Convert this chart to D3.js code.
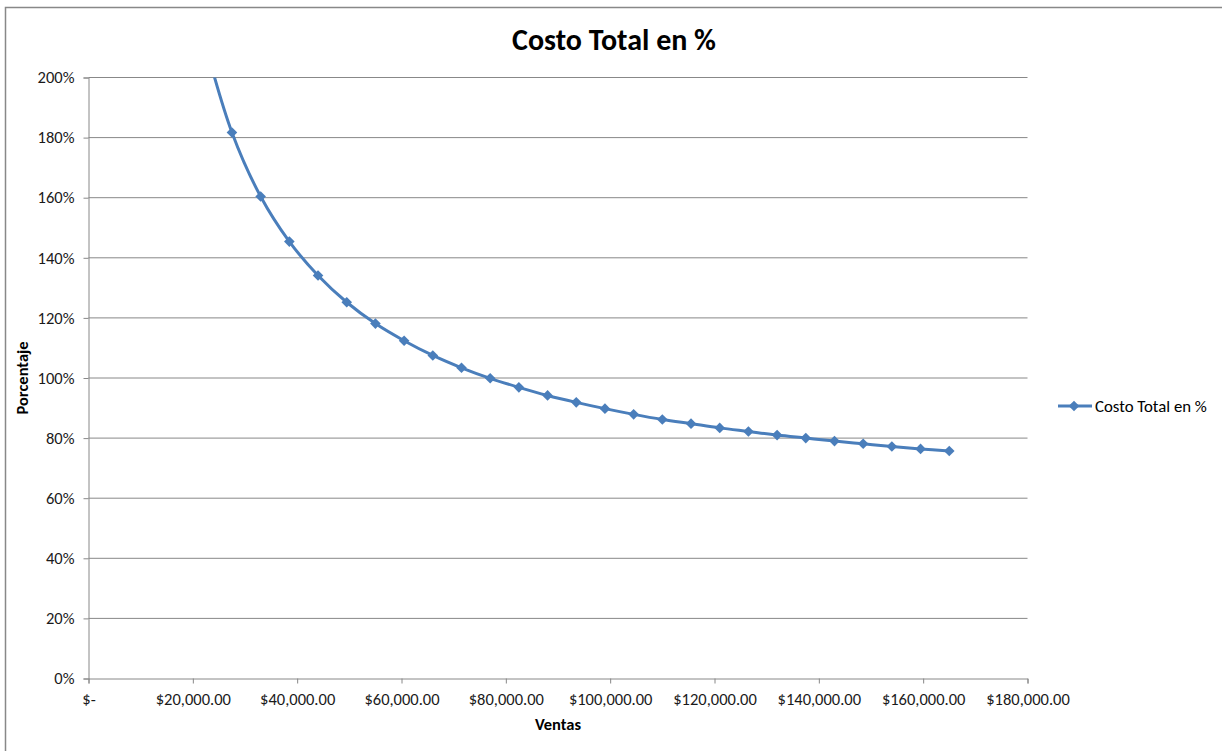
<!DOCTYPE html>
<html>
<head>
<meta charset="utf-8">
<script src="https://cdn.jsdelivr.net/npm/d3@7"></script>
<style>
  html, body { margin: 0; padding: 0; background: #fff; }
  svg { display: block; font-family: Carlito, Calibri, Lato, sans-serif; }
</style>
</head>
<body>
<svg id="chart" width="1222" height="751"></svg>
<script>
// Ventas (x) and costo total como fracción de ventas (y)
const ventas = [22000, 27500, 33000, 38500, 44000, 49500, 55000, 60500, 66000, 71500,
  77000, 82500, 88000, 93500, 99000, 104500, 110000, 115500, 121000, 126500,
  132000, 137500, 143000, 148500, 154000, 159500, 165000];
const costoPct = [2.136, 1.817, 1.604, 1.454, 1.341, 1.252, 1.181, 1.124, 1.075, 1.034,
  0.999, 0.969, 0.942, 0.919, 0.898, 0.879, 0.862, 0.848, 0.834, 0.822,
  0.810, 0.800, 0.790, 0.781, 0.772, 0.764, 0.757];
const xTicks = [0, 20000, 40000, 60000, 80000, 100000, 120000, 140000, 160000, 180000];
const yTicks = [0, 0.2, 0.4, 0.6, 0.8, 1.0, 1.2, 1.4, 1.6, 1.8, 2.0];
const titulo = "Costo Total en %";
const serieNombre = "Costo Total en %";

const svg = d3.select("#chart");
const blue = "#4a7ebb";
const grid = "#888888";
const FONT = "Carlito, Calibri, Lato, sans-serif";
const LABEL_SIZE = 16.5;

// Chart-area border
svg.append("rect")
  .attr("x", 5.5).attr("y", 7.5).attr("width", 1240).attr("height", 760)
  .attr("fill", "none").attr("stroke", "#888").attr("stroke-width", 1.5);

const plot = { left: 88.5, right: 1027.5, top: 77.5, bottom: 678.5 };

const x = d3.scaleLinear().domain([0, 180000]).range([plot.left, plot.right]);
const y = d3.scaleLinear().domain([0, 2]).range([plot.bottom, plot.top]);

// Horizontal gridlines
svg.append("g")
  .selectAll("line")
  .data(yTicks.filter(d => d > 0))
  .join("line")
  .attr("x1", plot.left).attr("x2", plot.right)
  .attr("y1", d => y(d)).attr("y2", d => y(d))
  .attr("stroke", grid).attr("stroke-width", 1);

// Y axis
const fmtPct = d => Math.round(d * 100) + "%";
const yAxis = svg.append("g")
  .attr("transform", `translate(${plot.left},0)`)
  .call(d3.axisLeft(y).tickValues(yTicks).tickFormat(fmtPct).tickSize(5).tickPadding(9));
yAxis.select(".domain").attr("stroke", grid);
yAxis.selectAll(".tick line").attr("stroke", grid);
yAxis.selectAll(".tick text")
  .attr("font-family", FONT)
  .attr("font-size", LABEL_SIZE).attr("fill", "#1a1a1a");

// X axis
const fmtMoney = d => d === 0 ? "$-" : "$" + d3.format(",.2f")(d);
const xAxis = svg.append("g")
  .attr("transform", `translate(0,${plot.bottom})`)
  .call(d3.axisBottom(x).tickValues(xTicks).tickFormat(fmtMoney).tickSize(5).tickPadding(10));
xAxis.select(".domain").attr("stroke", grid);
xAxis.selectAll(".tick line").attr("stroke", grid);
xAxis.selectAll(".tick text")
  .attr("font-family", FONT)
  .attr("font-size", LABEL_SIZE).attr("fill", "#1a1a1a");

// Clip the series to the plot area
svg.append("clipPath").attr("id", "plotClip")
  .append("rect")
  .attr("x", plot.left).attr("y", plot.top)
  .attr("width", plot.right - plot.left).attr("height", plot.bottom - plot.top);

const pts = ventas.map((v, i) => [v, costoPct[i]]);
const series = svg.append("g").attr("clip-path", "url(#plotClip)");

const line = d3.line()
  .x(d => x(d[0])).y(d => y(d[1]))
  .curve(d3.curveCatmullRom.alpha(0.5));

series.append("path")
  .datum(pts)
  .attr("d", line)
  .attr("fill", "none")
  .attr("stroke", blue)
  .attr("stroke-width", 3)
  .attr("stroke-linejoin", "round");

const diamond = d3.symbol().type(d3.symbolDiamond2).size(72);
series.selectAll("path.marker")
  .data(pts)
  .join("path")
  .attr("class", "marker")
  .attr("d", diamond)
  .attr("transform", d => `translate(${x(d[0])},${y(d[1])})`)
  .attr("fill", blue);

// Title
svg.append("text")
  .attr("x", 614).attr("y", 50)
  .attr("text-anchor", "middle")
  .attr("font-size", 30).attr("font-weight", "bold")
  .text(titulo);

// Axis titles
svg.append("text")
  .attr("x", 558).attr("y", 730)
  .attr("text-anchor", "middle")
  .attr("font-size", LABEL_SIZE).attr("font-weight", "bold")
  .text("Ventas");

svg.append("text")
  .attr("transform", "translate(28,378) rotate(-90)")
  .attr("text-anchor", "middle")
  .attr("font-size", LABEL_SIZE).attr("font-weight", "bold")
  .text("Porcentaje");

// Legend
const lg = svg.append("g").attr("transform", "translate(1058,406)");
lg.append("line")
  .attr("x1", 0).attr("x2", 34).attr("y1", 0).attr("y2", 0)
  .attr("stroke", blue).attr("stroke-width", 3);
lg.append("path")
  .attr("d", diamond)
  .attr("transform", "translate(16,0)")
  .attr("fill", blue);
lg.append("text")
  .attr("x", 37).attr("y", 6)
  .attr("font-size", 16.8)
  .text(serieNombre);
</script>
</body>
</html>
